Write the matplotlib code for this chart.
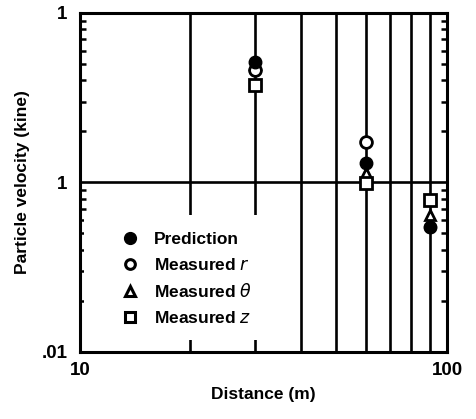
import matplotlib
matplotlib.use("Agg")
import matplotlib.pyplot as plt
from matplotlib.ticker import FixedLocator, NullFormatter
from matplotlib.lines import Line2D
from matplotlib.patches import Rectangle

plt.rcParams['font.family'] = ['Liberation Sans', 'DejaVu Sans']
plt.rcParams['mathtext.fontset'] = 'dejavusans'

# data
dist = [30, 60, 90]
prediction = [0.514, 0.130, 0.0548]
meas_r = [0.461, 0.174, 0.0548]
meas_theta = [0.50, 0.114, 0.0643]
meas_z = [0.376, 0.099, 0.0788]

xgrid = [20, 30, 40, 50, 60, 70, 80, 90]
ygrid = [0.1]
yticks = [0.01, 0.1, 1]
ylabels = ['.01', '1', '1']
xticks = [10, 100]
xlabels = ['10', '100']

fig = plt.figure(figsize=(4.76, 4.19), dpi=100)
ax = fig.add_axes([0.168, 0.160, 0.771, 0.809])
ax.set_xscale('log')
ax.set_yscale('log')
ax.set_xlim(10, 100)
ax.set_ylim(0.01, 1)

for x in xgrid:
    ax.axvline(x, color='black', lw=1.9, zorder=1)
for y in ygrid:
    ax.axhline(y, color='black', lw=1.9, zorder=1)

# white legend background box
ax.add_patch(Rectangle((0.01, 0.036), 0.49, 0.368, transform=ax.transAxes,
                       facecolor='white', edgecolor='none', zorder=2))

ms = 8.5
ax.plot(dist, meas_theta, linestyle='none', marker='^', ms=ms - 1.5, mfc='white', mec='black', mew=2, zorder=3)
ax.plot(dist[2:], meas_r[2:], linestyle='none', marker='o', ms=ms - 1, mfc='white', mec='black', mew=2, zorder=3)
ax.plot(dist, meas_z, linestyle='none', marker='s', ms=ms, mfc='white', mec='black', mew=2, zorder=4)
ax.plot(dist[:2], meas_r[:2], linestyle='none', marker='o', ms=ms, mfc='white', mec='black', mew=2, zorder=4)
ax.plot(dist, prediction, linestyle='none', marker='o', ms=ms + 0.5, mfc='black', mec='black', zorder=5)

handles = [
    Line2D([], [], linestyle='none', marker='o', ms=ms, mfc='black', mec='black'),
    Line2D([], [], linestyle='none', marker='o', ms=ms - 1.5, mfc='white', mec='black', mew=2.2),
    Line2D([], [], linestyle='none', marker='^', ms=ms - 1.5, mfc='white', mec='black', mew=2.2),
    Line2D([], [], linestyle='none', marker='s', ms=ms - 1.5, mfc='white', mec='black', mew=2.2),
]
labels = ['Prediction', r'Measured $r$', r'Measured $\theta$', r'Measured $z$']
leg = ax.legend(handles, labels, loc='upper left', bbox_to_anchor=(0.06, 0.405),
                frameon=False, prop={'weight': 'bold', 'size': 12.5},
                handletextpad=0.8, labelspacing=0.55, borderpad=0.5, handlelength=1.2)
leg.set_zorder(10)

ax.yaxis.set_major_locator(FixedLocator(yticks))
ax.set_yticklabels(ylabels)
ax.xaxis.set_major_locator(FixedLocator(xticks))
ax.set_xticklabels(xlabels)
ax.xaxis.set_minor_locator(FixedLocator([]))
ax.yaxis.set_minor_locator(FixedLocator([m * d for d in [0.01, 0.1] for m in range(2, 10)]))
ax.yaxis.set_minor_formatter(NullFormatter())

ax.tick_params(axis='y', which='minor', direction='in', length=4, width=1.8, left=True, right=True)
ax.tick_params(axis='y', which='major', direction='in', length=0, width=0, pad=9, labelsize=13.5)
ax.tick_params(axis='x', which='major', direction='in', length=0, pad=7, labelsize=13.5)
for lab in ax.get_xticklabels() + ax.get_yticklabels():
    lab.set_fontweight('bold')

for s in ax.spines.values():
    s.set_linewidth(2.2)
    s.set_zorder(20)

ax.set_xlabel('Distance (m)', fontsize=12.5, fontweight='bold', labelpad=6)
ax.set_ylabel('Particle velocity (kine)', fontsize=12.5, fontweight='bold', labelpad=8)

fig.savefig('out.png', dpi=100)
